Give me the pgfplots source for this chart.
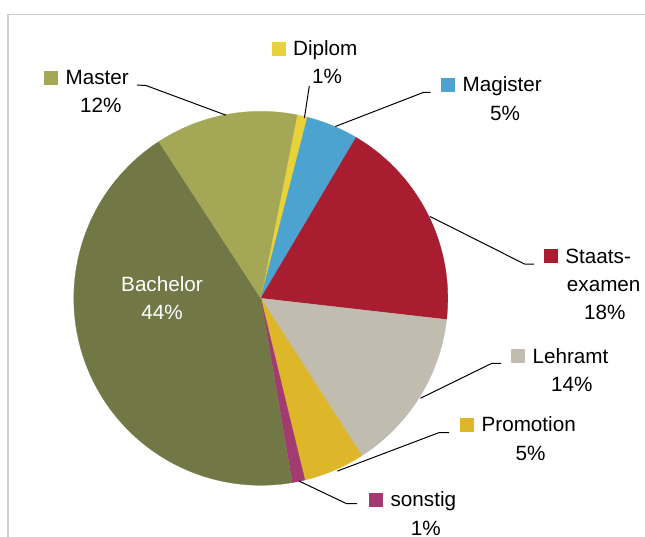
\documentclass[border=0pt]{standalone}
\usepackage{pgfplots}
\pgfplotsset{compat=1.18}
\usepackage{pgfplotstable}
\usepackage{fontspec}
\setmainfont{Liberation Sans}
\definecolor{cDiplom}{HTML}{E8D23A}
\definecolor{cMagister}{HTML}{4DA3CF}
\definecolor{cStaats}{HTML}{A81D2F}
\definecolor{cLehramt}{HTML}{C0BCAF}
\definecolor{cPromotion}{HTML}{DDB62A}
\definecolor{cSonstig}{HTML}{A33A72}
\definecolor{cBachelor}{HTML}{717846}
\definecolor{cMaster}{HTML}{A3A756}
\definecolor{cFrame}{HTML}{CFCFCF}

% shares in percent, clockwise from Diplom
\pgfplotstableread{
name pct
Diplom 0.9
Magister 4.5
Staatsexamen 18.3
Lehramt 14.1
Promotion 5.3
sonstig 1.1
Bachelor 43.5
Master 12.3
}\piedata

\gdef\piestart{78.8}
\newcommand\pieslice[2]{%
  \pgfplotstablegetelem{#1}{pct}\of\piedata
  \pgfmathsetmacro\pieend{\piestart-3.6*\pgfplotsretval}%
  \edef\temp{\noexpand\addplot[fill=#2,draw=#2,line width=0.2pt,domain=\pieend:\piestart,samples=90,variable=\noexpand\t] ({260.8+187*cos(\noexpand\t)},{298.3-187*sin(\noexpand\t)}) -- (axis cs:260.8,298.3) -- cycle;}%
  \temp
  \global\let\piestart\pieend
}
\newcommand\sq[1]{\textcolor{#1}{\rule{10.4pt}{10.4pt}}\hspace{5.6pt}}

\begin{document}
\begin{tikzpicture}[font=\fontsize{15.5pt}{21pt}\selectfont]
\begin{axis}[
  scale only axis,
  width=483.75pt, height=402pt,
  xmin=0, xmax=645, ymin=0, ymax=536,
  y dir=reverse,
  hide axis,
  clip=false,
]
% frame
\addplot[cFrame, line width=1.3pt] coordinates {(8.2,540) (8.2,14.4) (650,14.4)};
% slices
\pieslice{0}{cDiplom}
\pieslice{1}{cMagister}
\pieslice{2}{cStaats}
\pieslice{3}{cLehramt}
\pieslice{4}{cPromotion}
\pieslice{5}{cSonstig}
\pieslice{6}{cBachelor}
\pieslice{7}{cMaster}
% leader lines
\addplot[black, line width=0.75pt] coordinates {(137,85) (146,85.5) (226,115.2)};
\addplot[black, line width=0.75pt] coordinates {(309.3,86) (304.4,118)};
\addplot[black, line width=0.75pt] coordinates {(430.7,92.3) (423.7,92.3) (335.3,126.5)};
\addplot[black, line width=0.75pt] coordinates {(429.9,216.4) (524.5,264) (534,264)};
\addplot[black, line width=0.75pt] coordinates {(420.4,398.3) (491.6,363.4) (501,363.4)};
\addplot[black, line width=0.75pt] coordinates {(337.3,471.1) (439.3,432.5) (449.2,432.5)};
\addplot[black, line width=0.75pt] coordinates {(299,481) (346.4,503.6) (357,503.6)};
% labels
\node[anchor=base west, inner sep=0pt] at (axis cs:44,84.8) {\sq{cMaster}Master};
\node[anchor=base, inner sep=0pt] at (axis cs:100.8,112.8) {12\%};
\node[anchor=base west, inner sep=0pt] at (axis cs:271.5,55.7) {\sq{cDiplom}Diplom};
\node[anchor=base, inner sep=0pt] at (axis cs:327,83.8) {1\%};
\node[anchor=base west, inner sep=0pt] at (axis cs:441,91.8) {\sq{cMagister}Magister};
\node[anchor=base, inner sep=0pt] at (axis cs:505,120.7) {5\%};
\node[anchor=base west, inner sep=0pt] at (axis cs:543.8,263) {\sq{cStaats}Staats-};
\node[anchor=base, inner sep=0pt] at (axis cs:603.7,291.3) {examen};
\node[anchor=base, inner sep=0pt] at (axis cs:604.7,319.7) {18\%};
\node[anchor=base west, inner sep=0pt] at (axis cs:511,363.2) {\sq{cLehramt}Lehramt};
\node[anchor=base, inner sep=0pt] at (axis cs:571.8,391.8) {14\%};
\node[anchor=base west, inner sep=0pt] at (axis cs:460,431.8) {\sq{cPromotion}Promotion};
\node[anchor=base, inner sep=0pt] at (axis cs:530.6,460) {5\%};
\node[anchor=base west, inner sep=0pt] at (axis cs:369,506.5) {\sq{cSonstig}sonstig};
\node[anchor=base, inner sep=0pt] at (axis cs:425.7,535) {1\%};
\node[anchor=base, inner sep=0pt, text=white] at (axis cs:162,291.3) {Bachelor};
\node[anchor=base, inner sep=0pt, text=white] at (axis cs:162,319) {44\%};
\end{axis}
\pgfresetboundingbox
\path[use as bounding box] (current axis.south west) rectangle (current axis.north east);
\end{tikzpicture}
\end{document}
